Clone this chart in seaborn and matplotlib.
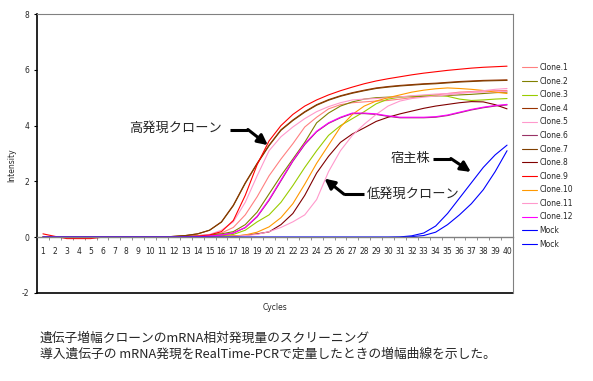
import numpy as np
import pandas as pd
import matplotlib
matplotlib.use("Agg")
import matplotlib.pyplot as plt
import seaborn as sns

cycles = list(range(1, 41))

clone1 = [0.0]*12 + [0.02, 0.04, 0.08, 0.15, 0.35, 0.8, 1.45, 2.2, 2.8, 3.35, 3.95, 4.3, 4.6, 4.75,
                     4.82, 4.85, 4.88, 4.9, 4.95, 5.0, 5.05, 5.1, 5.15, 5.2, 5.22, 5.24, 5.25, 5.26]
clone2 = [0.0]*11 + [0.02, 0.04, 0.06, 0.08, 0.12, 0.2, 0.45, 0.9, 1.55, 2.2, 2.8, 3.4, 4.1, 4.45,
                     4.7, 4.85, 4.95, 5.0, 5.02, 5.03, 5.04, 5.05, 5.06, 5.08, 5.1, 5.12, 5.15, 5.18, 5.2]
clone3 = [0.0]*12 + [0.01, 0.02, 0.03, 0.05, 0.1, 0.25, 0.55, 0.8, 1.25, 1.85, 2.5, 3.1, 3.65, 4.0,
                     4.25, 4.5, 4.78, 4.95, 5.02, 5.06, 5.08, 5.09, 5.05, 4.95, 4.9, 4.92, 4.95, 4.97]
clone4 = [0.0]*11 + [0.03, 0.06, 0.12, 0.25, 0.55, 1.15, 1.95, 2.65, 3.3, 3.85, 4.2, 4.5, 4.75, 4.93,
                     5.07, 5.18, 5.27, 5.35, 5.4, 5.44, 5.47, 5.5, 5.52, 5.55, 5.58, 5.6, 5.62, 5.63, 5.64]
clone5 = [0.0]*12 + [0.02, 0.05, 0.1, 0.25, 0.55, 1.25, 2.2, 3.1, 3.6, 3.95, 4.25, 4.5, 4.68, 4.82,
                     4.92, 4.95, 4.97, 5.0, 5.03, 5.07, 5.1, 5.13, 5.15, 5.17, 5.19, 5.2, 5.21, 5.22]
clone6 = [0.0]*12 + [0.01, 0.02, 0.04, 0.08, 0.15, 0.34, 0.73, 1.32, 2.02, 2.72, 3.32, 3.78, 4.08, 4.28,
                     4.43, 4.43, 4.4, 4.33, 4.28, 4.28, 4.28, 4.3, 4.36, 4.46, 4.56, 4.64, 4.7, 4.74]
clone7 = [0.0]*11 + [0.03, 0.06, 0.12, 0.25, 0.54, 1.13, 1.93, 2.63, 3.28, 3.83, 4.18, 4.48, 4.73, 4.91,
                     5.05, 5.16, 5.25, 5.33, 5.38, 5.42, 5.45, 5.48, 5.5, 5.53, 5.56, 5.58, 5.6, 5.61, 5.62]
clone8 = [0.0]*15 + [0.02, 0.04, 0.07, 0.12, 0.19, 0.45, 0.85, 1.5, 2.3, 2.9, 3.4, 3.7, 3.92, 4.15,
                     4.3, 4.42, 4.52, 4.62, 4.7, 4.76, 4.82, 4.86, 4.85, 4.75, 4.6]
clone9 = [0.12, 0.03, -0.05, -0.05, -0.05, 0.0, 0.0, 0.0, 0.0, 0.0, 0.0, 0.01, 0.02, 0.04, 0.08, 0.2,
          0.6, 1.5, 2.6, 3.45, 4.0, 4.4, 4.7, 4.92, 5.1, 5.25, 5.38, 5.5, 5.6, 5.68, 5.75, 5.82, 5.88,
          5.93, 5.98, 6.02, 6.06, 6.09, 6.11, 6.13]
clone10 = [0.0]*14 + [0.01, 0.02, 0.04, 0.08, 0.18, 0.37, 0.7, 1.2, 1.9, 2.65, 3.3, 3.95, 4.4, 4.7,
                      4.88, 5.0, 5.1, 5.2, 5.27, 5.32, 5.35, 5.33, 5.3, 5.26, 5.2, 5.15]
clone11 = [0.0]*15 + [0.01, 0.03, 0.06, 0.1, 0.2, 0.35, 0.55, 0.8, 1.35, 2.35, 3.1, 3.65, 4.05, 4.4,
                      4.7, 4.88, 4.97, 5.02, 5.06, 5.1, 5.15, 5.2, 5.25, 5.3, 5.33]
clone12 = [0.0]*12 + [0.01, 0.02, 0.04, 0.08, 0.15, 0.35, 0.75, 1.35, 2.05, 2.75, 3.35, 3.8, 4.1, 4.3,
                      4.45, 4.45, 4.42, 4.35, 4.3, 4.3, 4.3, 4.32, 4.38, 4.48, 4.58, 4.66, 4.72, 4.76]
mock1 = [0.0]*30 + [0.01, 0.05, 0.15, 0.4, 0.85, 1.4, 1.95, 2.5, 2.95, 3.3]
mock2 = [0.0]*31 + [0.02, 0.06, 0.18, 0.45, 0.8, 1.2, 1.7, 2.35, 3.1]

names = ["Clone.1", "Clone.2", "Clone.3", "Clone.4", "Clone.5", "Clone.6", "Clone.7",
         "Clone.8", "Clone.9", "Clone.10", "Clone.11", "Clone.12", "Mock", "Mock"]
series = [clone1, clone2, clone3, clone4, clone5, clone6, clone7,
          clone8, clone9, clone10, clone11, clone12, mock1, mock2]
colors = ["#FF8080", "#808000", "#99CC00", "#993300", "#FF99CC", "#993366", "#7F3F00",
          "#800000", "#FF0000", "#FF9900", "#FF99CC", "#FF00FF", "#0000FF", "#0000FF"]

sns.set_style("white")
plt.rcParams["font.family"] = ["Noto Sans CJK JP", "DejaVu Sans"]

fig = plt.figure(figsize=(5.93, 3.81), dpi=100)
ax = fig.add_axes([37/593, 1-293/381, 476/593, 279/381])

for name, vals, c in zip(names, series, colors):
    df = pd.DataFrame({"Cycles": cycles, "Intensity": vals})
    sns.lineplot(data=df, x="Cycles", y="Intensity", color=c, label=name, ax=ax, linewidth=0.8)

ax.set_xlim(0.5, 40.5)
ax.set_ylim(-2, 8)
ax.set_xlabel("")
ax.set_ylabel("")

# x axis sits on y=0 like the Excel chart
ax.spines["bottom"].set_position(("data", 0))
ax.spines["bottom"].set_color("#808080")
ax.spines["bottom"].set_linewidth(1.0)
ax.spines["left"].set_color("black")
ax.spines["left"].set_linewidth(1.2)
ax.spines["top"].set_color("#808080")
ax.spines["right"].set_color("#808080")
ax.axhline(-2, color="black", lw=1.2, clip_on=False)

ax.set_xticks(cycles)
ax.set_xticklabels([str(c) for c in cycles], fontsize=5.5, family="DejaVu Sans")
ax.set_xticks(np.arange(0.5, 41, 1), minor=True)
ax.tick_params(axis="x", which="major", length=0, pad=7)
ax.tick_params(axis="x", which="minor", length=2.5, color="#808080", direction="out", bottom=True)
ax.set_yticks([-2, 0, 2, 4, 6, 8])
ax.set_yticklabels(["-2", "0", "2", "4", "6", "8"], fontsize=5.5, family="DejaVu Sans")
ax.tick_params(axis="y", length=2.5, color="black", direction="out", left=True, pad=3)

ax.legend(loc="upper left", bbox_to_anchor=(519/593, 1-60/381), bbox_transform=fig.transFigure,
          frameon=False, prop={"family": "DejaVu Sans", "size": 5.5}, handlelength=2.0,
          handletextpad=0.3, labelspacing=0.6, borderaxespad=0)

fig.text(12/593, 1-165/381, "Intensity", rotation=90, ha="center", va="center",
         fontsize=5.5, family="DejaVu Sans")
fig.text(275/593, 1-308/381, "Cycles", ha="center", va="center", fontsize=5.5, family="DejaVu Sans")

# annotations
arrow = dict(arrowstyle="-|>,head_length=0.6,head_width=0.3", color="black", lw=2.2, shrinkA=0, shrinkB=0)
ax.text(16.0, 3.9, "高発現クローン", ha="right", va="center", fontsize=9.5)
ax.plot([16.69, 18.22], [3.86, 3.86], color="black", lw=2.2, solid_capstyle="butt")
ax.annotate("", xy=(19.9, 3.3), xytext=(18.22, 3.86), arrowprops=arrow)

ax.text(28.25, 1.55, "低発現クローン", ha="left", va="center", fontsize=9.5)
ax.plot([28.0, 26.3], [1.54, 1.54], color="black", lw=2.2, solid_capstyle="butt")
ax.annotate("", xy=(24.66, 2.1), xytext=(26.3, 1.54), arrowprops=arrow)

ax.text(33.6, 2.83, "宿主株", ha="right", va="center", fontsize=9.5)
ax.plot([33.74, 35.28], [2.82, 2.82], color="black", lw=2.2, solid_capstyle="butt")
ax.annotate("", xy=(36.96, 2.34), xytext=(35.28, 2.82), arrowprops=arrow)

fig.text(40/593, 1-338/381, "遺伝子増幅クローンのmRNA相対発現量のスクリーニング",
         ha="left", va="center", fontsize=9.2)
fig.text(40/593, 1-354/381, "導入遺伝子の mRNA発現をRealTime-PCRで定量したときの増幅曲線を示した。",
         ha="left", va="center", fontsize=9.2)

fig.savefig("out.png", dpi=100)
